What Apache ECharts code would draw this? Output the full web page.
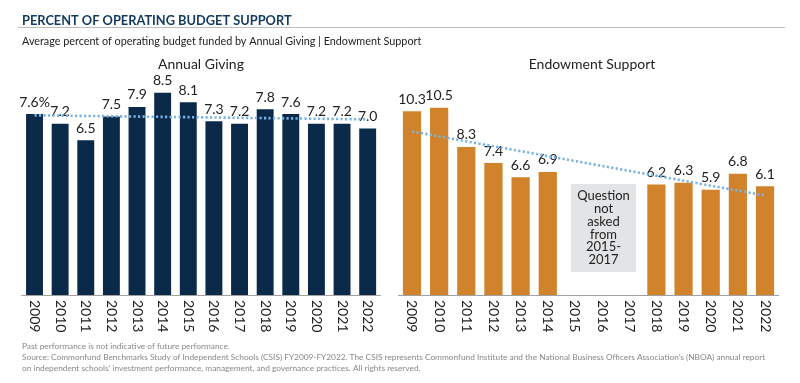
<!DOCTYPE html>
<html><head><meta charset="utf-8">
<script src="https://cdn.jsdelivr.net/npm/echarts@6/dist/echarts.min.js"></script>
<style>html,body{margin:0;padding:0;background:#fff}#c{width:800px;height:383px}</style>
</head><body><div id="c"></div>
<script>
const years = ['2009','2010','2011','2012','2013','2014','2015','2016','2017','2018','2019','2020','2021','2022'];
const annualGiving = [7.6,7.2,6.5,7.5,7.9,8.5,8.1,7.3,7.2,7.8,7.6,7.2,7.2,7.0];
const endowment = [10.3,10.5,8.3,7.4,6.6,6.9,null,null,null,6.2,6.3,5.9,6.8,6.1];
// trend line endpoints (first year, last year)
const trendAnnual = [7.55,null,null,null,null,null,null,null,null,null,null,null,null,7.38];
const trendEndow = [9.17,null,null,null,null,null,null,null,null,null,null,null,null,5.58];

const FONT = 'Lato';
const navy = '#0b2a4a', orange = '#d0832b', trendC = '#7ab3e2';
const labelFmt = p => (p.value == null ? '' : (p.dataIndex === 0 && p.seriesIndex === 0 ? p.value.toFixed(1) + '%' : p.value.toFixed(1)));

const chart = echarts.init(document.getElementById('c'), null, {renderer:'canvas'});
const xAxisBase = {
  type:'category', data: years,
  axisLine:{lineStyle:{color:'#a0a0a0', width:1}},
  axisTick:{show:false},
  axisLabel:{rotate:-90, fontSize:14, color:'#222', fontFamily:FONT, margin:5}
};
chart.setOption({
  animation:false,
  textStyle:{fontFamily:FONT},
  title:[
    {text:'PERCENT OF OPERATING BUDGET SUPPORT', left:17, top:9, textStyle:{fontSize:12.8, fontWeight:'bold', color:'#123a5e', fontFamily:FONT}},
    {text:'Average percent of operating budget funded by Annual Giving | Endowment Support', left:17, top:31, textStyle:{fontSize:10.8, fontWeight:'normal', color:'#222', fontFamily:FONT}},
    {text:'Annual Giving', left:196, top:52, textAlign:'center', textStyle:{fontSize:14, fontWeight:'normal', color:'#222', fontFamily:FONT}},
    {text:'Endowment Support', left:587, top:52, textAlign:'center', textStyle:{fontSize:14, fontWeight:'normal', color:'#222', fontFamily:FONT}}
  ],
  grid:[
    {left:21.7, right:419.5, top:57, bottom:88},
    {left:398.4, right:21.4, top:81, bottom:88}
  ],
  xAxis:[Object.assign({gridIndex:0}, xAxisBase), Object.assign({gridIndex:1}, xAxisBase)],
  yAxis:[
    {gridIndex:0, type:'value', min:0, max:10, show:false, splitLine:{show:false}},
    {gridIndex:1, type:'value', min:0, max:12, show:false, splitLine:{show:false}}
  ],
  series:[
    {type:'bar', xAxisIndex:0, yAxisIndex:0, data:annualGiving, barWidth:'66%', itemStyle:{color:navy},
     label:{show:true, position:'top', distance:5, fontSize:14, color:'#222', fontFamily:FONT, formatter:labelFmt}},
    {type:'bar', xAxisIndex:1, yAxisIndex:1, data:endowment, barWidth:'67%', itemStyle:{color:orange},
     label:{show:true, position:'top', distance:5, fontSize:14, color:'#222', fontFamily:FONT, formatter:labelFmt}},
    {type:'line', xAxisIndex:0, yAxisIndex:0, data:trendAnnual, connectNulls:true, symbol:'none', z:5,
     lineStyle:{color:trendC, width:2.6, type:[2.2,2.3]}},
    {type:'line', xAxisIndex:1, yAxisIndex:1, data:trendEndow, connectNulls:true, symbol:'none', z:5,
     lineStyle:{color:trendC, width:2.6, type:[2.2,2.3]}}
  ],
  graphic:[
    {type:'line', shape:{x1:18, y1:27.5, x2:785, y2:27.5}, style:{stroke:'#bdbdbd', lineWidth:1}},
    {type:'rect', shape:{x:571, y:184, width:65, height:88}, style:{fill:'#e3e4e6'}},
    {type:'text', x:603.5, y:228, style:{text:'Question\nnot\nasked\nfrom\n2015-\n2017', align:'center', verticalAlign:'middle', fontSize:13, lineHeight:12.7, fill:'#222', fontFamily:FONT}},
    {type:'text', x:22, y:342, style:{text:'Past performance is not indicative of future performance.', fontSize:8.3, fill:'#888', fontFamily:FONT}},
    {type:'text', x:22, y:353, style:{text:'Source: Commonfund Benchmarks Study of Independent Schools (CSIS) FY2009-FY2022. The CSIS represents Commonfund Institute and the National Business Officers Association\u2019s (NBOA) annual report', fontSize:8.3, fill:'#888', fontFamily:FONT}},
    {type:'text', x:22, y:364, style:{text:'on independent schools\u2019 investment performance, management, and governance practices. All rights reserved.', fontSize:8.3, fill:'#888', fontFamily:FONT}}
  ]
});
</script>
</body></html>
